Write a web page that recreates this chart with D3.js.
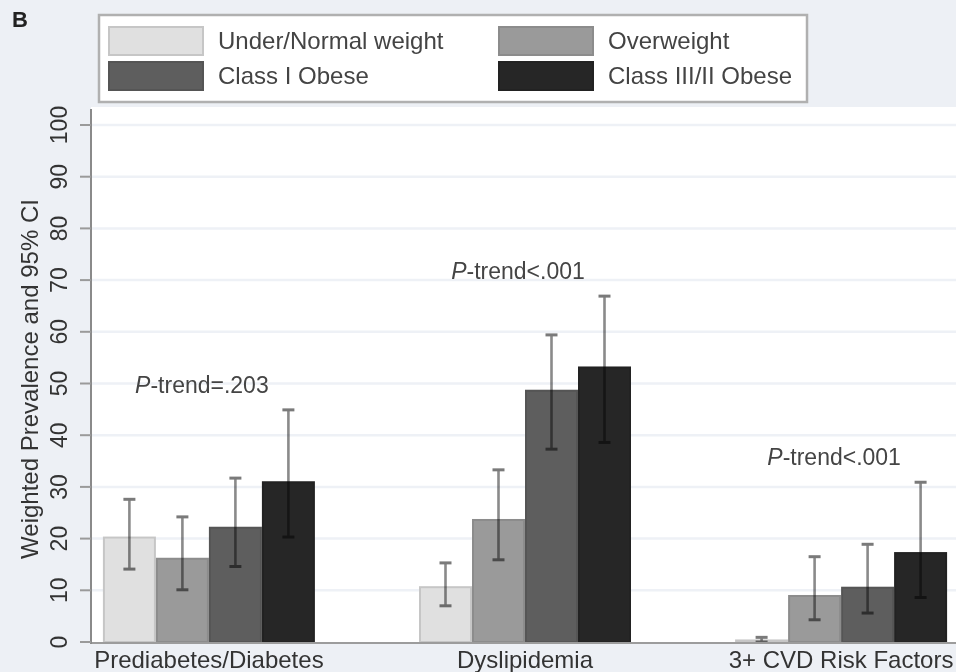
<!DOCTYPE html>
<html>
<head>
<meta charset="utf-8">
<script src="https://cdn.jsdelivr.net/npm/d3@7"></script>
<style>
  html, body { margin: 0; padding: 0; background: #edf0f5; }
  svg { display: block; }
  text { font-family: "Liberation Sans", Arial, sans-serif; fill: #333; }
</style>
</head>
<body>
<svg id="chart" width="956" height="672"></svg>
<script>
// ---- data ----
const categories = ["Prediabetes/Diabetes", "Dyslipidemia", "3+ CVD Risk Factors"];
const seriesNames = ["Under/Normal weight", "Overweight", "Class I Obese", "Class III/II Obese"];
const legendLabels = ["Under/Normal weight", "Overweight", "Class I Obese", "Class III/II Obese"];
const underNormal = [20.2, 10.6, 0.3];
const overweight  = [16.1, 23.6, 8.9];
const classI      = [22.1, 48.6, 10.5];
const classIII_II = [30.9, 53.1, 17.2];
const lowerCI = [[14.1, 7.0, 0.0], [10.1, 15.9, 4.3], [14.6, 37.3, 5.6], [20.3, 38.6, 8.6]];
const upperCI = [[27.6, 15.3, 0.9], [24.2, 33.3, 16.5], [31.7, 59.4, 18.9], [44.9, 66.9, 30.9]];
const pTrend = ["=.203", "<.001", "<.001"];
const yTicks = [0, 10, 20, 30, 40, 50, 60, 70, 80, 90, 100];
const panelLabel = "B";
const yTitle = "Weighted Prevalence and 95% CI";

const values = [underNormal, overweight, classI, classIII_II];
const colors = ["#e0e0e0", "#9a9a9a", "#5e5e5e", "#262626"];
const strokes = ["#c6c6c6", "#8c8c8c", "#555555", "#222222"];

const svg = d3.select("#chart");
const W = 956, H = 672;

const plot = { left: 91, right: 959, top: 107, bottom: 642 };

const y = d3.scaleLinear().domain([0, 100]).range([642, 125]);
const x0 = d3.scalePoint().domain(categories).range([plot.left, plot.right]).padding(0.373);
const groupWidth = 212;
const x1 = d3.scaleBand().domain(d3.range(seriesNames.length)).range([-groupWidth / 2, groupWidth / 2]).padding(0);

// background
svg.append("rect").attr("x", 0).attr("y", 0).attr("width", W).attr("height", H).attr("fill", "#edf0f5");
// plot region
svg.append("rect").attr("x", plot.left).attr("y", plot.top)
  .attr("width", W - plot.left).attr("height", plot.bottom - plot.top).attr("fill", "#ffffff");

// gridlines
svg.append("g").selectAll("line").data(yTicks.filter(d => d > 0)).join("line")
  .attr("x1", plot.left).attr("x2", W)
  .attr("y1", d => y(d)).attr("y2", d => y(d))
  .attr("stroke", "#eef1f6").attr("stroke-width", 2.5);

// bars
const bars = svg.append("g");
values.forEach((vals, s) => {
  bars.selectAll(null).data(vals).join("rect")
    .attr("x", (d, i) => x0(categories[i]) + x1(s) + 1)
    .attr("y", d => y(d))
    .attr("width", x1.bandwidth() - 2)
    .attr("height", d => y(0) - y(d))
    .attr("fill", colors[s])
    .attr("stroke", strokes[s])
    .attr("stroke-width", 2);
});

// error bars
const eb = svg.append("g").style("mix-blend-mode", "multiply");
values.forEach((vals, s) => {
  vals.forEach((v, i) => {
    const cx = x0(categories[i]) + x1(s) + x1.bandwidth() / 2;
    const lo = lowerCI[s][i], hi = upperCI[s][i];
    eb.append("line").attr("x1", cx).attr("x2", cx).attr("y1", y(lo)).attr("y2", y(hi))
      .attr("stroke", "#8a8a8a").attr("stroke-width", 2.6);
    [lo, hi].forEach(t => {
      eb.append("line").attr("x1", cx - 6).attr("x2", cx + 6).attr("y1", y(t)).attr("y2", y(t))
        .attr("stroke", "#7a7a7a").attr("stroke-width", 3);
    });
  });
});

// axes
svg.append("line").attr("x1", plot.left).attr("x2", W).attr("y1", y(0) + 1).attr("y2", y(0) + 1)
  .attr("stroke", "#9c9c9c").attr("stroke-width", 2);
svg.append("line").attr("x1", plot.left).attr("x2", plot.left).attr("y1", 109).attr("y2", y(0) + 2)
  .attr("stroke", "#8a8a8a").attr("stroke-width", 2);

const yAxis = svg.append("g");
yAxis.selectAll("line").data(yTicks).join("line")
  .attr("x1", 80).attr("x2", plot.left).attr("y1", d => y(d)).attr("y2", d => y(d))
  .attr("stroke", "#9a9a9a").attr("stroke-width", 2);
yAxis.selectAll("text").data(yTicks).join("text")
  .attr("transform", d => `translate(67,${y(d)}) rotate(-90)`)
  .attr("text-anchor", "middle")
  .style("font-size", "23px")
  .text(d => d);

svg.append("text")
  .attr("transform", `translate(38,379) rotate(-90)`)
  .attr("text-anchor", "middle")
  .style("font-size", "24px")
  .text(yTitle);

// x labels
svg.append("g").selectAll("text").data(categories).join("text")
  .attr("x", d => x0(d)).attr("y", 668)
  .attr("text-anchor", "middle")
  .style("font-size", "24px")
  .text(d => d);

// p-trend annotations
const ann = svg.append("g");
categories.forEach((c, i) => {
  const maxUp = d3.max(upperCI, arr => arr[i]);
  const t = ann.append("text")
    .attr("x", x0(c) - 7).attr("y", y(maxUp) - 17)
    .attr("text-anchor", "middle")
    .style("font-size", "23px").style("fill", "#444");
  t.append("tspan").style("font-style", "italic").text("P");
  t.append("tspan").text("-trend" + pTrend[i]);
});

// panel label
svg.append("text").attr("x", 12).attr("y", 27)
  .style("font-size", "22px").style("font-weight", "bold").style("fill", "#222")
  .text(panelLabel);

// legend
const lg = svg.append("g");
lg.append("rect").attr("x", 99).attr("y", 15).attr("width", 708).attr("height", 87)
  .attr("fill", "#ffffff").attr("stroke", "#b0b0b0").attr("stroke-width", 2.5);
const legendPos = [
  { col: 0, row: 0 }, { col: 1, row: 0 }, { col: 0, row: 1 }, { col: 1, row: 1 }
];
const colX = [109, 499];
const rowY = [27, 62];
legendLabels.forEach((lab, k) => {
  const p = legendPos[k];
  lg.append("rect").attr("x", colX[p.col]).attr("y", rowY[p.row])
    .attr("width", 94).attr("height", 28)
    .attr("fill", colors[k]).attr("stroke", strokes[k]).attr("stroke-width", 2);
  lg.append("text").attr("x", colX[p.col] + 109).attr("y", rowY[p.row] + 22)
    .style("font-size", "24px").style("fill", "#444")
    .text(lab);
});
</script>
</body>
</html>
